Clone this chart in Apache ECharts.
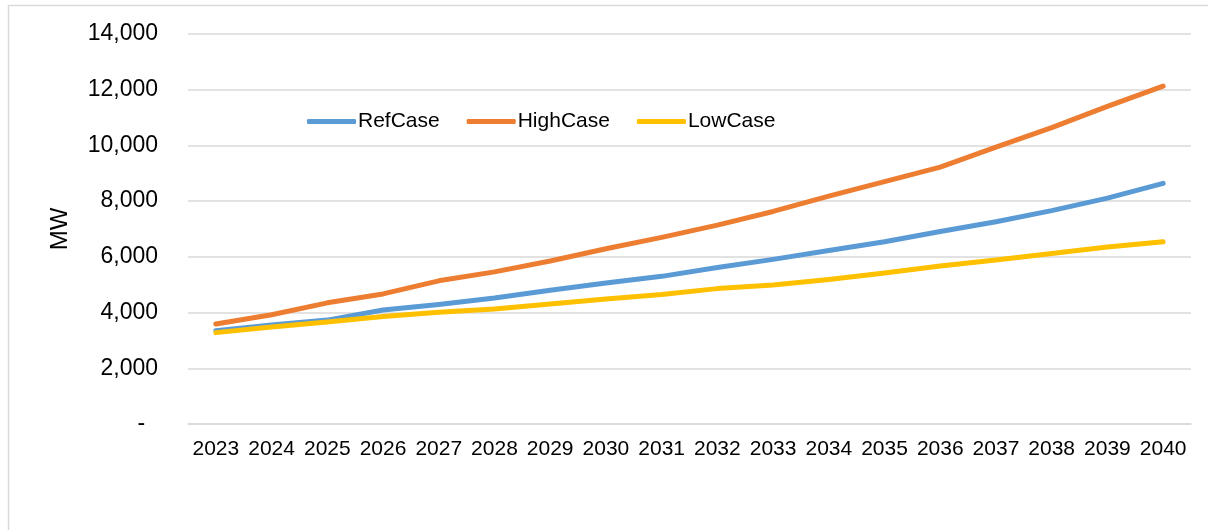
<!DOCTYPE html>
<html>
<head>
<meta charset="utf-8">
<script src="https://cdn.jsdelivr.net/npm/echarts@6/dist/echarts.min.js"></script>
<style>
html,body{margin:0;padding:0;background:#fff;}
#chart{width:1208px;height:530px;}
</style>
</head>
<body>
<div id="chart"></div>
<script>
const years = ['2023','2024','2025','2026','2027','2028','2029','2030','2031','2032','2033','2034','2035','2036','2037','2038','2039','2040'];
const refCase  = [3350, 3550, 3730, 4090, 4290, 4520, 4800, 5060, 5300, 5620, 5910, 6230, 6540, 6910, 7260, 7660, 8110, 8640];
const highCase = [3590, 3920, 4350, 4670, 5140, 5460, 5850, 6290, 6700, 7140, 7630, 8180, 8700, 9220, 9940, 10640, 11400, 12130];
const lowCase  = [3280, 3480, 3660, 3860, 4010, 4130, 4310, 4490, 4650, 4860, 4990, 5190, 5420, 5670, 5890, 6120, 6350, 6540];
const yTicks = [0, 2000, 4000, 6000, 8000, 10000, 12000, 14000];

const chart = echarts.init(document.getElementById('chart'), null, {renderer: 'canvas'});
const font = 'Liberation Sans, Arial, sans-serif';
function mkSeries(name, data, color) {
  return {
    name: name, type: 'line', data: data, symbol: 'none', smooth: false,
    lineStyle: {color: color, width: 5, cap: 'round', join: 'round'},
    itemStyle: {color: color}
  };
}
chart.setOption({
  animation: false,
  backgroundColor: '#fff',
  graphic: [{
    type: 'rect', silent: true,
    shape: {x: 8.5, y: 5.5, width: 1400, height: 700},
    style: {fill: 'none', stroke: '#d9d9d9', lineWidth: 1.5}
  }],
  grid: {left: 188, right: 17, top: 34, bottom: 106, containLabel: false},
  legend: {
    left: 302, top: 106,
    itemWidth: 49, itemHeight: 5, itemGap: 27,
    icon: 'roundRect',
    textStyle: {fontFamily: font, fontSize: 21, color: '#000', padding: [0, 0, 0, -3]},
    data: ['RefCase', 'HighCase', 'LowCase']
  },
  xAxis: {
    type: 'category', data: years, boundaryGap: true,
    axisLine: {show: true, lineStyle: {color: '#d9d9d9', width: 1.5}},
    axisTick: {show: false},
    axisLabel: {fontFamily: font, fontSize: 21, color: '#000', margin: 15, interval: 0}
  },
  yAxis: {
    type: 'value', min: 0, max: 14000, interval: 2000,
    name: 'MW', nameLocation: 'middle', nameGap: 116, nameRotate: 90,
    nameTextStyle: {fontFamily: font, fontSize: 24, color: '#000'},
    axisLine: {show: false}, axisTick: {show: false},
    splitLine: {show: true, lineStyle: {color: '#d9d9d9', width: 1.5}},
    axisLabel: {
      fontFamily: font, fontSize: 23, color: '#000', margin: 30,
      formatter: function (v) {
        if (yTicks.indexOf(v) < 0) return '';
        return v === 0 ? '-  ' : v.toLocaleString('en-US');
      }
    }
  },
  series: [
    mkSeries('RefCase', refCase, '#5B9BD5'),
    mkSeries('HighCase', highCase, '#ED7D31'),
    mkSeries('LowCase', lowCase, '#FFC000')
  ]
});
</script>
</body>
</html>
